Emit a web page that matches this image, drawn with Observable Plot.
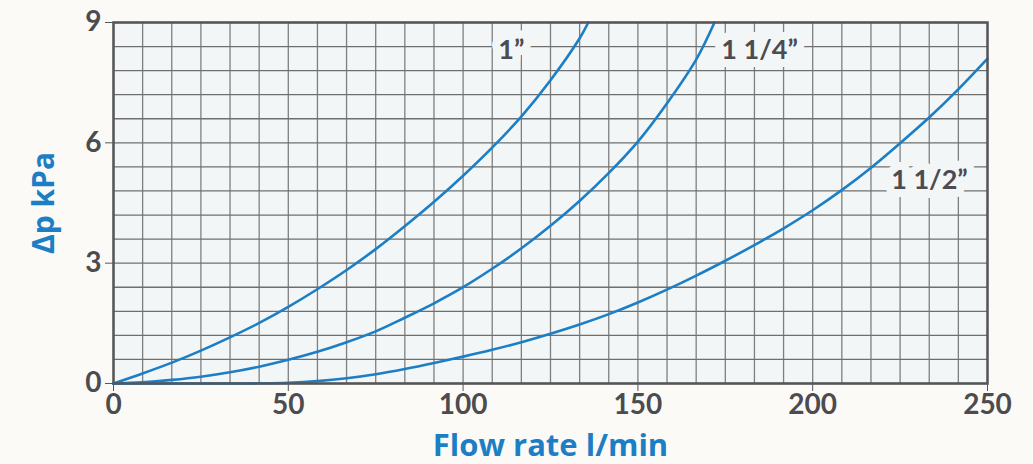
<!DOCTYPE html>
<html>
<head>
<meta charset="utf-8">
<script src="https://cdn.jsdelivr.net/npm/d3@7"></script>
<script src="https://cdn.jsdelivr.net/npm/@observablehq/plot@0.6"></script>
<style>
  html, body { margin: 0; padding: 0; background: #fcfaf6; }
  #chart { width: 1033px; height: 464px; }
</style>
</head>
<body>
<div id="chart"></div>
<script>
// ---- data ----
const flow1 = [0, 8.3, 16.7, 25, 33.3, 41.7, 50, 58.3, 66.7, 75, 83.3, 91.7, 100, 108.3, 116.7, 125, 133.3, 135.8];
const dp1   = [0, 0.25, 0.52, 0.82, 1.15, 1.51, 1.91, 2.35, 2.83, 3.35, 3.92, 4.53, 5.18, 5.88, 6.66, 7.56, 8.6, 9];

const flow114 = [0, 8.3, 16.7, 25, 33.3, 41.7, 50, 58.3, 66.7, 75, 83.3, 91.7, 100, 108.3, 116.7, 125, 133.3, 141.7, 150, 158.3, 166.7, 171.9];
const dp114   = [0, 0.03, 0.09, 0.17, 0.28, 0.42, 0.59, 0.79, 1.03, 1.3, 1.64, 2.0, 2.4, 2.86, 3.37, 3.93, 4.55, 5.25, 6.03, 6.98, 8.08, 9];

const flow112 = [0, 8.3, 16.7, 25, 33.3, 41.7, 50, 58.3, 66.7, 75, 83.3, 91.7, 100, 108.3, 116.7, 125, 133.3, 141.7, 150, 158.3, 166.7, 175, 183.3, 191.7, 200, 208.3, 216.7, 225, 233.3, 241.7, 250];
const dp112   = [0, 0, 0, 0, 0, 0.005, 0.02, 0.06, 0.13, 0.23, 0.36, 0.51, 0.67, 0.84, 1.03, 1.24, 1.47, 1.73, 2.02, 2.34, 2.69, 3.06, 3.45, 3.87, 4.32, 4.82, 5.38, 5.99, 6.63, 7.34, 8.1];

const seriesNames = ["1”", "1 1/4”", "1 1/2”"];
const labelFlow = [113.8, 184.8, 233.4];
const labelDp   = [8.3, 8.3, 5.07];

const xTicks = [0, 50, 100, 150, 200, 250];
const yTicks = [0, 3, 6, 9];
const xGridCount = 30;   // grid columns across 0..250
const yGridStep = 0.6;   // grid rows

const xTitle = "Flow rate l/min";
const yTitle = "Δp kPa";

// ---- build tables ----
const rows = [];
[[flow1, dp1], [flow114, dp114], [flow112, dp112]].forEach(([f, d], k) => {
  f.forEach((v, i) => rows.push({series: seriesNames[k], flow: v, dp: d[i]}));
});
const labels = seriesNames.map((s, i) => ({text: s, flow: labelFlow[i], dp: labelDp[i]}));
const xGrid = d3.range(0, xGridCount + 1).map(i => i * 250 / xGridCount);
const yGrid = d3.range(0, 16).map(i => +(i * yGridStep).toFixed(2));

const blue = "#1c7fc5";
const ink = "#4b4b50";
const plotBg = "#f3f6f6";

const chart = Plot.plot({
  width: 1033,
  height: 464,
  marginLeft: 113,
  marginRight: 46,
  marginTop: 22,
  marginBottom: 81,
  x: {domain: [0, 250], axis: null},
  y: {domain: [0, 9], axis: null},
  style: {background: "transparent", fontFamily: "Lato, 'Open Sans', sans-serif", fontSize: "28px", color: ink},
  marks: [
    Plot.frame({fill: plotBg}),
    Plot.gridX(xGrid, {stroke: "#7f7f7f", strokeOpacity: 1, strokeWidth: 1.3}),
    Plot.gridY(yGrid, {stroke: "#6f6f6f", strokeOpacity: 1, strokeWidth: 1.3}),
    Plot.line(rows, {x: "flow", y: "dp", z: "series", stroke: blue, strokeWidth: 2.6, curve: "catmull-rom"}),
    Plot.text(labels, {
      x: "flow", y: "dp", text: "text",
      fontSize: 27, fontWeight: "bold", fill: ink,
      stroke: plotBg, strokeWidth: 16, strokeLinejoin: "round",
      textAnchor: "middle", lineAnchor: "middle"
    }),
    Plot.frame({stroke: "#56565a", strokeWidth: 2.5}),
    Plot.axisX(xTicks, {tickSize: 8, tickPadding: 3, fontSize: 28, fontWeight: "bold", fill: ink, stroke: "#56565a", label: null}),
    Plot.axisY(yTicks, {tickSize: 8, tickPadding: 4, fontSize: 28, fontWeight: "bold", fill: ink, stroke: "#56565a", label: null}),
    Plot.text([xTitle], {frameAnchor: "bottom", dy: 63, fontFamily: "'Open Sans', sans-serif", fontSize: 31, fontWeight: "bold", fill: blue, textAnchor: "middle", lineAnchor: "middle"}),
    Plot.text([yTitle], {frameAnchor: "left", dx: -69, rotate: -90, fontFamily: "'Open Sans', sans-serif", fontSize: 30, fontWeight: "bold", fill: blue, textAnchor: "middle", lineAnchor: "middle"})
  ]
});
document.getElementById("chart").appendChild(chart);
</script>
</body>
</html>
